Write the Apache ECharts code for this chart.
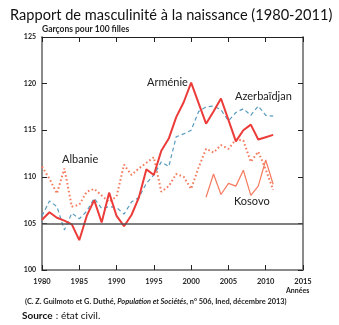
<!DOCTYPE html>
<html>
<head>
<meta charset="utf-8">
<script src="https://cdn.jsdelivr.net/npm/echarts@6/dist/echarts.min.js"></script>
<style>
  html, body { margin: 0; padding: 0; background: #fff; }
  #chart { width: 339px; height: 325px; }
</style>
</head>
<body>
<div id="chart"></div>
<script>
// Sex ratio at birth (boys per 100 girls), 1980-2011
const years = [1980,1981,1982,1983,1984,1985,1986,1987,1988,1989,1990,1991,1992,1993,1994,1995,
               1996,1997,1998,1999,2000,2001,2002,2003,2004,2005,2006,2007,2008,2009,2010,2011];
const armenie = [105.4,106.2,105.6,105.3,104.9,103.2,105.8,107.5,105.1,108.3,105.8,104.7,105.9,107.8,110.8,110.2,
                 112.8,114.1,116.4,118.0,120.1,117.9,115.7,117.0,118.4,116.1,113.8,115.0,115.6,114.0,114.25,114.5];
const azerbaidjan = [105.8,107.4,106.8,104.3,106.1,105.5,106.3,107.7,106.6,106.8,106.7,106.0,107.3,107.8,109.3,110.2,
                     111.6,111.1,114.3,114.6,115.0,117.0,117.5,117.6,117.2,116.0,116.9,117.3,116.6,117.6,116.6,116.5];
const albanie = [111.1,109.8,108.2,110.9,106.8,107.0,108.4,108.7,108.0,107.3,107.9,111.3,110.2,110.9,111.5,112.1,
                 108.4,109.0,110.3,110.0,108.7,111.0,113.0,112.6,113.4,113.0,114.0,113.9,111.6,112.7,110.8,108.6];
const kosovoYears = [2002,2003,2004,2005,2006,2007,2008,2009,2010,2011];
const kosovo = [107.8,110.3,108.1,109.3,109.0,110.7,108.0,109.0,111.8,109.2];
const xTicks = [1980,1985,1990,1995,2000,2005,2010,2015];
const yTicks = [100,105,110,115,120,125];

const pairs = (xs, ys) => xs.map((x, i) => [x, ys[i]]);

const chart = echarts.init(document.getElementById('chart'), null, { renderer: 'canvas' });

const baseFont = 'Lato, "Open Sans", sans-serif';

chart.setOption({
  animation: false,
  backgroundColor: '#ffffff',
  grid: { left: 42, right: 36, top: 37, bottom: 55 },
  title: {
    text: 'Rapport de masculinité à la naissance (1980-2011)',
    left: 5, top: 3,
    textStyle: { fontFamily: baseFont, fontSize: 14.6, fontWeight: 'normal', color: '#111' }
  },
  xAxis: [
    {
      type: 'value', min: 1980, max: 2015, interval: 5, position: 'bottom',
      axisLine: { show: true, lineStyle: { color: '#8a8a8a', width: 2 } },
      axisTick: { show: true, inside: true, length: 5, lineStyle: { color: '#222', width: 1 } },
      axisLabel: {
        fontFamily: baseFont, fontSize: 7.5, fontWeight: 'bold', color: '#222', margin: 8,
        customValues: xTicks, formatter: v => String(v)
      },
      splitLine: { show: false }
    },
    {
      type: 'value', min: 1980, max: 2015, interval: 5, position: 'top',
      axisLine: { show: true, onZero: false, lineStyle: { color: '#222', width: 1 } },
      axisTick: { show: true, inside: true, length: 5, lineStyle: { color: '#222', width: 1 } },
      axisLabel: { show: false },
      splitLine: { show: false }
    }
  ],
  yAxis: [
    {
      type: 'value', min: 100, max: 125, interval: 5, position: 'left',
      axisLine: { show: true, lineStyle: { color: '#8a8a8a', width: 2 } },
      axisTick: { show: true, inside: true, length: 5, lineStyle: { color: '#222', width: 1 } },
      axisLabel: {
        fontFamily: baseFont, fontSize: 7, fontWeight: 'bold', color: '#222', margin: 6,
        customValues: yTicks
      },
      splitLine: { show: false }
    },
    {
      type: 'value', min: 100, max: 125, interval: 5, position: 'right',
      axisLine: { show: true, onZero: false, lineStyle: { color: '#8a8a8a', width: 2 } },
      axisTick: { show: true, inside: true, length: 5, lineStyle: { color: '#222', width: 1 } },
      axisLabel: { show: false },
      splitLine: { show: false }
    }
  ],
  series: [
    {
      name: 'Albanie', type: 'line', data: pairs(years, albanie),
      symbol: 'none', z: 2,
      lineStyle: { color: '#f47b5e', width: 2, type: [1.6, 2.4], cap: 'butt' }
    },
    {
      name: 'Kosovo', type: 'line', data: pairs(kosovoYears, kosovo),
      symbol: 'none', z: 2,
      lineStyle: { color: '#f47b5e', width: 1.2 }
    },
    {
      name: 'Azerbaïdjan', type: 'line', data: pairs(years, azerbaidjan),
      symbol: 'none', z: 3,
      lineStyle: { color: '#5a9cbf', width: 1.2, type: [4, 3] }
    },
    {
      name: 'Arménie', type: 'line', data: pairs(years, armenie),
      symbol: 'none', z: 4,
      lineStyle: { color: '#ec3c3a', width: 2 },
      markLine: {
        silent: true, symbol: 'none', label: { show: false },
        lineStyle: { color: '#555', width: 1.5, type: 'solid' },
        data: [{ yAxis: 105 }]
      }
    }
  ],
  graphic: [
    { type: 'text', left: 42, top: 25,
      style: { text: 'Garçons pour 100 filles', font: 'bold 8.5px ' + baseFont, fill: '#222' } },
    { type: 'text', left: 286, top: 287,
      style: { text: 'Années', font: 'bold 7px ' + baseFont, fill: '#222' } },
    { type: 'text', left: 62, top: 154,
      style: { text: 'Albanie', font: '11px ' + baseFont, fill: '#222' } },
    { type: 'text', left: 147, top: 77,
      style: { text: 'Arménie', font: '11px ' + baseFont, fill: '#222' } },
    { type: 'text', left: 235, top: 91,
      style: { text: 'Azerbaïdjan', font: '11px ' + baseFont, fill: '#222' } },
    { type: 'text', left: 234, top: 196,
      style: { text: 'Kosovo', font: '11px ' + baseFont, fill: '#222' } },
    { type: 'text', left: 25, top: 298,
      style: {
        text: '{b|(C. Z. Guilmoto et G. Duthé, }{i|Population et Sociétés}{b|, n° 506, Ined, décembre 2013)}',
        rich: {
          b: { font: 'bold 7.4px ' + baseFont, fill: '#222' },
          i: { font: 'italic bold 7.4px ' + baseFont, fill: '#222' }
        }
      } },
    { type: 'text', left: 22, top: 310,
      style: {
        text: '{b|Source} {n|: état civil.}',
        rich: {
          b: { font: 'bold 10px ' + baseFont, fill: '#111' },
          n: { font: '10px ' + baseFont, fill: '#111' }
        }
      } }
  ]
});
</script>
</body>
</html>
